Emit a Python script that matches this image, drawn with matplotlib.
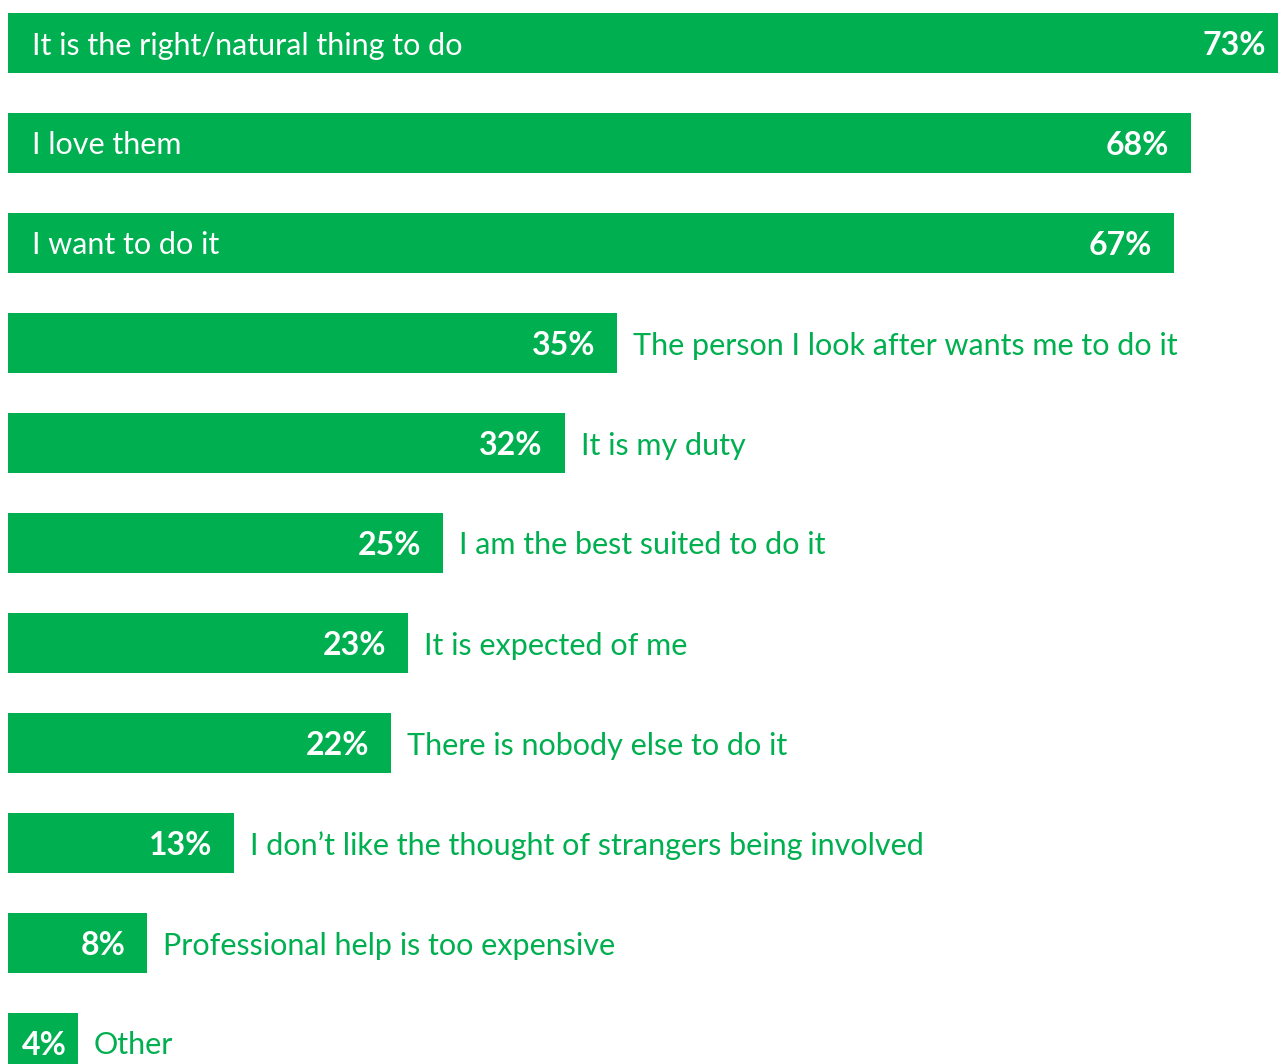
import matplotlib
matplotlib.use("Agg")
import matplotlib.pyplot as plt

# Reasons for caring, share of respondents (%)
reasons = [
    "It is the right/natural thing to do",
    "I love them",
    "I want to do it",
    "The person I look after wants me to do it",
    "It is my duty",
    "I am the best suited to do it",
    "It is expected of me",
    "There is nobody else to do it",
    "I don\u2019t like the thought of strangers being involved",
    "Professional help is too expensive",
    "Other",
]
shares = [73, 68, 67, 35, 32, 25, 23, 22, 13, 8, 4]
inside_label_count = 3  # top bars carry their label inside the bar

GREEN = "#00AF50"
FONT = "Lato"

W, H, DPI = 1282, 1064, 100
fig = plt.figure(figsize=(W / DPI, H / DPI), dpi=DPI)
ax = fig.add_axes([0, 0, 1, 1])

px_per_unit = 17.4
left_px = 8
ax.set_xlim(-left_px / px_per_unit, (W - left_px) / px_per_unit)
ax.set_ylim(10 + (H - 1043) / 100, -0.43)
ax.axis("off")

ypos = list(range(len(reasons)))
ax.barh(ypos, shares, height=0.6, left=0, color=GREEN, edgecolor="none")

for i, (name, val) in enumerate(zip(reasons, shares)):
    if val < 6:
        # narrow bar: centre the value inside it
        ax.annotate(f"{val}%", xy=(val / 2, i), xytext=(2, 0),
                    textcoords="offset pixels", ha="center", va="center_baseline",
                    color="white", fontsize=23, fontweight="bold", family=FONT)
    else:
        ax.annotate(f"{val}%", xy=(val, i), xytext=(-12 if i == 0 else -22, 0),
                    textcoords="offset pixels", ha="right", va="center_baseline",
                    color="white", fontsize=23, fontweight="bold", family=FONT)
    if i < inside_label_count:
        ax.annotate(name, xy=(0, i), xytext=(24, 0), textcoords="offset pixels",
                    ha="left", va="center_baseline", color="white",
                    fontsize=22, family=FONT)
    else:
        ax.annotate(name, xy=(val, i), xytext=(16, 0), textcoords="offset pixels",
                    ha="left", va="center_baseline", color=GREEN,
                    fontsize=22, family=FONT)

fig.savefig("out.png", dpi=DPI)
